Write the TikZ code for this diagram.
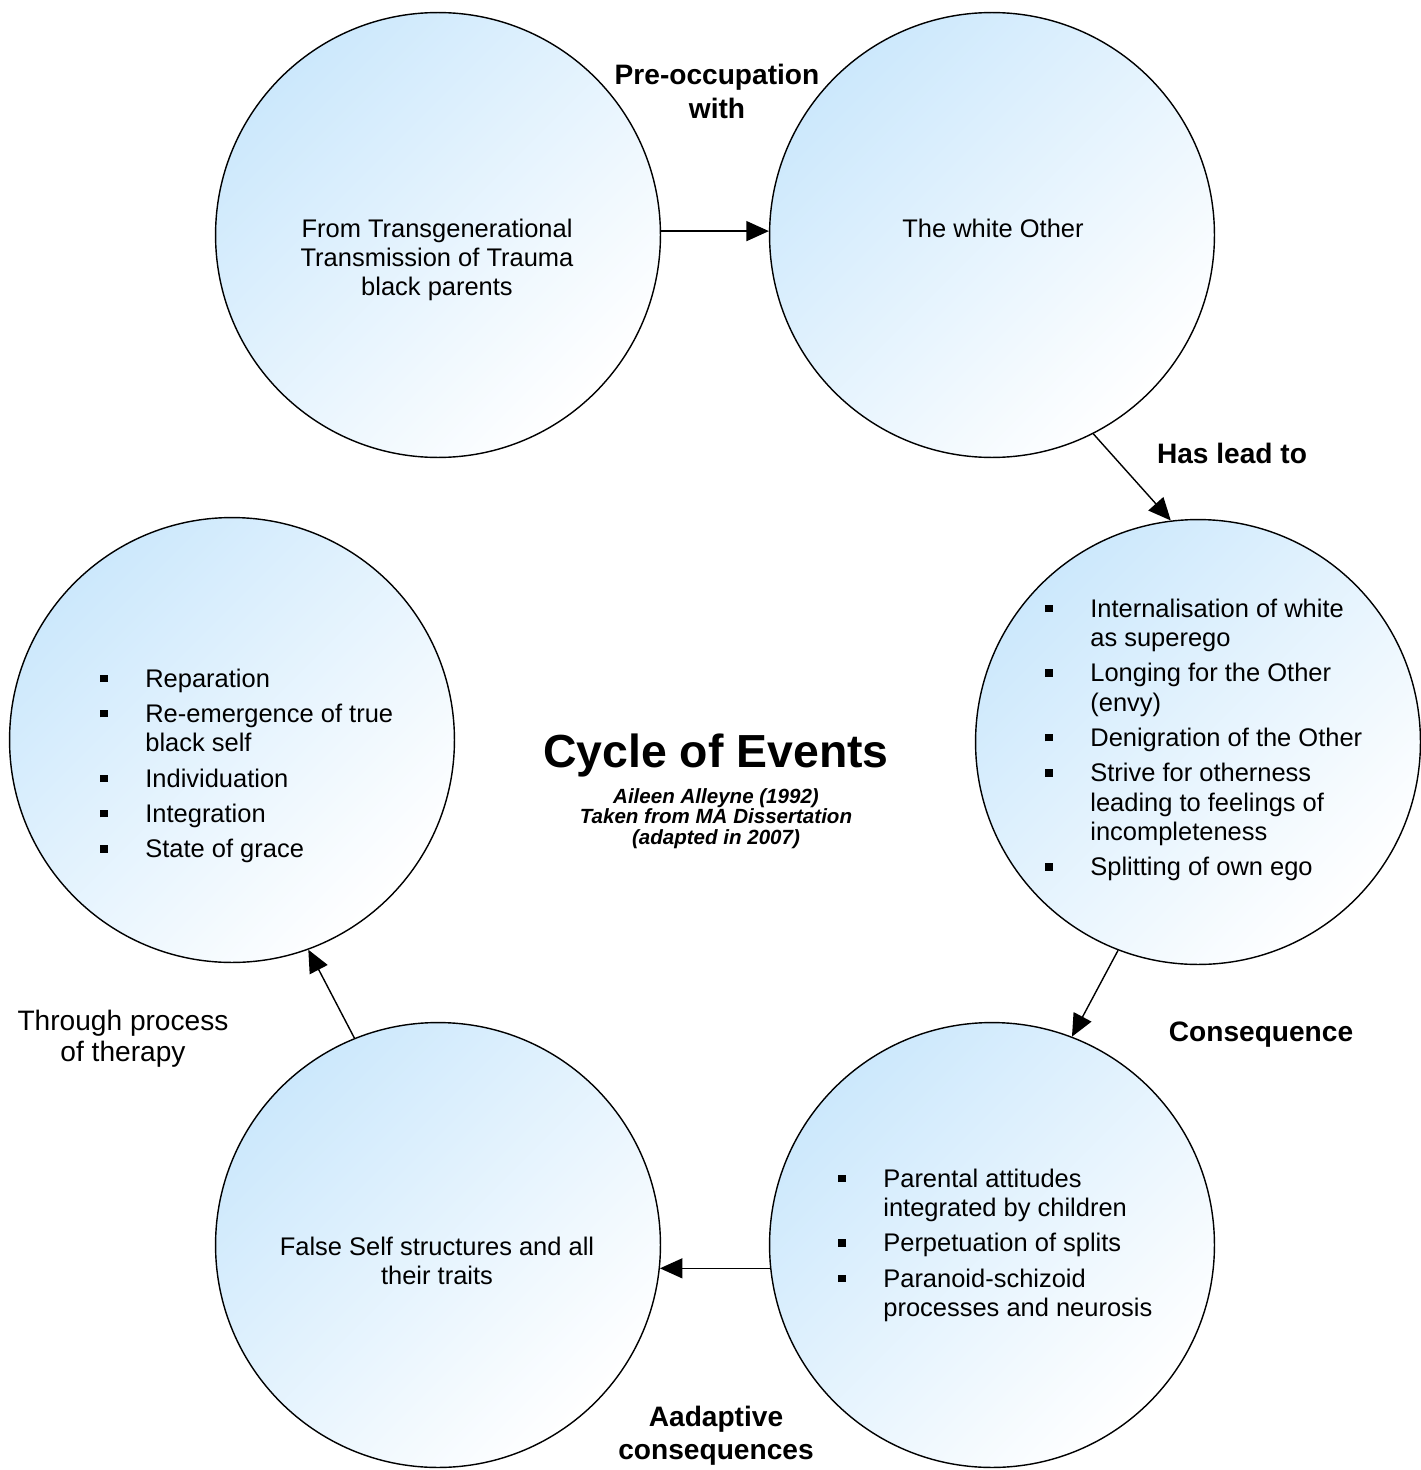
\documentclass[tikz,border=0pt]{standalone}
\usepackage{fontspec}
\setmainfont{Liberation Sans}
\usetikzlibrary{arrows.meta}
\definecolor{cycleblue}{RGB}{204,232,252}
% square bullet and the matching indent
\newcommand{\sqbul}{\makebox[0.9cm][l]{\raisebox{0.1cm}{\rule{0.15cm}{0.15cm}}}}

\begin{document}
\begin{tikzpicture}[x=0.02cm, y=-0.02cm]
	\tikzset{
		phase/.style={circle, draw, line width=0.8pt, minimum size=8.9cm, inner sep=0pt,
			top color=cycleblue, bottom color=white, shading angle=45},
		body/.style={inner sep=0pt, anchor=base, font=\fontsize{14.5}{16.7}\selectfont},
		blist/.style={body, anchor=base west},
		tag/.style={inner sep=0pt, anchor=base, font=\fontsize{16}{19}\selectfont\bfseries},
		flow/.style={line width=0.8pt, -{Triangle[length=0.45cm, width=0.4cm]}}
	}
	\useasboundingbox (0,0) rectangle (1420,1470);
	% the six circles
	\node [phase] (c1) at (438,235) {};
	\node [phase] (c2) at (992,235) {};
	\node [phase] (c3) at (1198,742) {};
	\node [phase] (c4) at (992,1245) {};
	\node [phase] (c5) at (438,1245) {};
	\node [phase] (c6) at (232,740) {};
	% texts in the circles
	\node [body] (t1) at (437,237) {\begin{tabular}[t]{@{}c@{}}From Transgenerational\\Transmission of Trauma\\black parents\end{tabular}};
	\node [body] (t2) at (993,237) {The white Other};
	\node [blist] (t3) at (1045,617) {\begin{tabular}[t]{@{}l@{}l@{}}
		\sqbul & Internalisation of white\\
		 & as superego\\[0.12cm]
		\sqbul & Longing for the Other\\
		 & (envy)\\[0.12cm]
		\sqbul & Denigration of the Other\\[0.12cm]
		\sqbul & Strive for otherness\\
		 & leading to feelings of\\
		 & incompleteness\\[0.12cm]
		\sqbul & Splitting of own ego
	\end{tabular}};
	\node [blist] (t4) at (838,1187) {\begin{tabular}[t]{@{}l@{}l@{}}
		\sqbul & Parental attitudes\\
		 & integrated by children\\[0.12cm]
		\sqbul & Perpetuation of splits\\[0.12cm]
		\sqbul & Paranoid-schizoid\\
		 & processes and neurosis
	\end{tabular}};
	\node [body] (t5) at (437,1255) {\begin{tabular}[t]{@{}c@{}}False Self structures and all\\their traits\end{tabular}};
	\node [blist] (t6) at (100,687) {\begin{tabular}[t]{@{}l@{}l@{}}
		\sqbul & Reparation\\[0.12cm]
		\sqbul & Re-emergence of true\\
		 & black self\\[0.12cm]
		\sqbul & Individuation\\[0.12cm]
		\sqbul & Integration\\[0.12cm]
		\sqbul & State of grace
	\end{tabular}};
	% arrows round the cycle
	\draw [flow] (c1.1) -- (c2.179);
	\draw [flow] (c2.-63) -- (c3.97);
	\draw [flow] (c3.-111) -- (c4.69);
	\draw [flow] (c4.186) -- (c5.-6);
	\draw [flow] (c5.112) -- (c6.-70);
	% arrow labels
	\node [tag] (l1) at (717,85) {\begin{tabular}[t]{@{}c@{}}Pre-occupation\\with\end{tabular}};
	\node [tag] (l2) at (1232,463) {Has lead to};
	\node [tag] (l3) at (1261,1041) {Consequence};
	\node [tag] (l4) at (716,1426) {\begin{tabular}[t]{@{}c@{}}Aadaptive\\consequences\end{tabular}};
	\node [tag, font=\fontsize{16}{18.2}\selectfont] (l5) at (123,1030) {\begin{tabular}[t]{@{}c@{}}Through process\\of therapy\end{tabular}};
	% title
	\node [inner sep=0pt, anchor=base, font=\fontsize{26.4}{30}\selectfont\bfseries] (title) at (716,767) {Cycle of Events};
	\node [inner sep=0pt, anchor=base, font=\fontsize{11.7}{11.4}\selectfont\bfseries\itshape] (credit) at (716,803)
		{\begin{tabular}[t]{@{}c@{}}Aileen Alleyne (1992)\\Taken from MA Dissertation\\(adapted in 2007)\end{tabular}};
\end{tikzpicture}
\end{document}
